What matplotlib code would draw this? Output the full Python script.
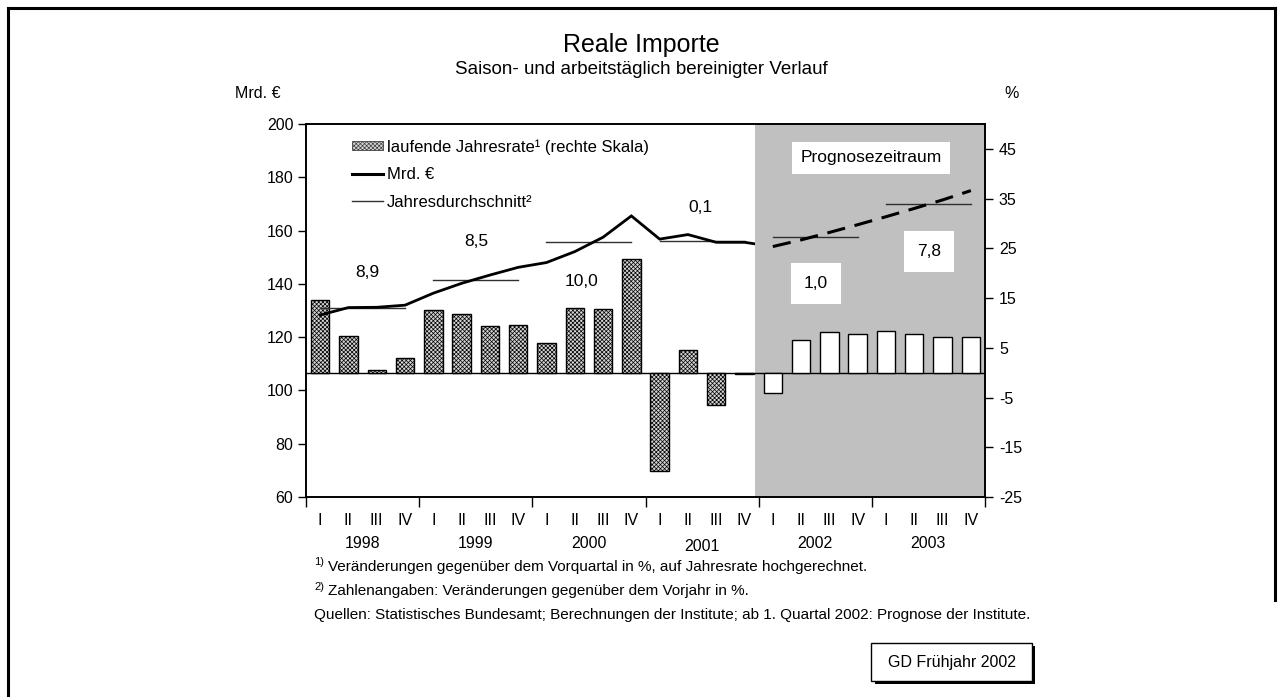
import matplotlib
matplotlib.use('Agg')
import matplotlib.pyplot as plt
import matplotlib.transforms as mtransforms
from matplotlib.patches import Rectangle, Patch
from matplotlib.lines import Line2D

plt.rcParams['font.family'] = ['Liberation Sans', 'DejaVu Sans']
plt.rcParams['hatch.linewidth'] = 0.5
plt.rcParams['hatch.color'] = '#7a7a7a'
plt.rcParams['axes.unicode_minus'] = False

# ---------------- data ----------------
years = ['1998', '1999', '2000', '2001', '2002', '2003']
quarters = ['I', 'II', 'III', 'IV']
# laufende Jahresrate (right scale, %)
rate = [14.6, 7.3, 0.6, 3.0, 12.5, 11.8, 9.4, 9.6, 6.0, 13.0, 12.8, 22.8,
        -19.8, 4.6, -6.6, -0.2, -4.0, 6.5, 8.1, 7.7, 8.4, 7.7, 7.2, 7.2]
# Mrd. EUR, actual (1998 I .. 2002 I) and forecast (2002 I .. 2003 IV)
level_actual = [128.3, 131.1, 131.2, 132.0, 136.5, 140.2, 143.3, 146.2,
                148.0, 152.1, 157.5, 165.5, 156.8, 158.5, 155.6, 155.6, 154.0]
level_forecast = [154.0, 156.5, 159.3, 162.2, 165.2, 168.3, 171.5, 175.0]
annual_avg = [130.8, 141.6, 155.7, 155.9, 157.5, 169.9]
growth_labels = ['8,9', '8,5', '10,0', '0,1', '1,0', '7,8']
n_hist = 16  # first forecast quarter index (2002 I)

# ---------------- layout helpers ----------------
W, H = 1283, 697
def fx(x):
    return x / W
def fy(y):
    return 1 - y / H

fig = plt.figure(figsize=(W / 100, H / 100), dpi=100)
fig.patch.set_facecolor('white')

ax = fig.add_axes([fx(306), fy(497), (985 - 306) / W, (497 - 124) / H])
axb = ax.twinx()
ax.set_zorder(3)
ax.patch.set_visible(False)

n = len(rate)
xs = list(range(n))

# grey forecast region
axb.axvspan(15.37, n - 0.5, color='#c0c0c0', lw=0, zorder=0)

# bars
for i, v in enumerate(rate):
    if i < n_hist:
        axb.bar(i, v, width=0.65, facecolor='#d4d4d4', edgecolor='black',
                hatch='xxxxxxxx', linewidth=1.0, zorder=2)
    else:
        axb.bar(i, v, width=0.65, facecolor='white', edgecolor='black',
                linewidth=1.0, zorder=2)
axb.axhline(0, color='black', lw=1.0, zorder=1.5)

# level line (solid, clipped at forecast start)
ln, = ax.plot(xs[:len(level_actual)], level_actual, color='black', lw=2.0,
              solid_joinstyle='miter', zorder=4)
clip = Rectangle((-1, 0), 16.37, 400, transform=ax.transData)
ln.set_clip_path(clip)
ax.plot(list(range(n_hist, n_hist + len(level_forecast))), level_forecast,
        color='black', lw=2.2, dashes=(6, 3.2), zorder=4)

# annual averages
for k, a in enumerate(annual_avg):
    ax.plot([4 * k, 4 * k + 3], [a, a], color='#303030', lw=1.0, zorder=3.5)

# growth labels
label_pos = [(1.65, 144.2), (5.53, 155.8), (9.25, 140.8), (13.43, 168.7),
             (17.52, 140.0), (21.53, 152.1)]
for k, (lab, (px, py)) in enumerate(zip(growth_labels, label_pos)):
    if k >= 4:
        ax.text(px, py, lab, ha='center', va='center', fontsize=12.5, zorder=6,
                bbox=dict(boxstyle='square,pad=0.75', fc='white', ec='none'))
    else:
        ax.text(px, py, lab, ha='center', va='center', fontsize=12.5, zorder=6)

ax.text(19.47, 187.3, 'Prognosezeitraum', ha='center', va='center',
        fontsize=12.5, zorder=6,
        bbox=dict(boxstyle='square,pad=0.5', fc='white', ec='none'))

# axes scales
ax.set_xlim(-0.5, n - 0.5)
ax.set_ylim(60, 200)
ax.set_yticks(range(60, 201, 20))
axb.set_ylim(-25, 50)
axb.set_yticks(range(-25, 46, 10))
ax.set_xticks([4 * k - 0.5 for k in range(len(years) + 1)])
ax.set_xticklabels([])
ax.tick_params(axis='x', direction='out', length=7, width=1.0)
ax.tick_params(axis='y', direction='out', length=6, width=1.0, labelsize=11.5, pad=3)
axb.tick_params(axis='y', direction='out', length=6, width=1.0, labelsize=11.5, pad=4)
axb.tick_params(axis='x', length=0)
for a in (ax, axb):
    for s in a.spines.values():
        s.set_linewidth(1.2)

# quarter & year labels
trans = mtransforms.blended_transform_factory(ax.transData, ax.transAxes)
for i in xs:
    ax.text(i, -0.064, quarters[i % 4], transform=trans, ha='center', va='center',
            fontsize=11.5)
for k, y in enumerate(years):
    yy = -0.134 if y == '2001' else -0.126
    ax.text(4 * k + 1.5, yy, y, transform=trans, ha='center', va='center',
            fontsize=11.5)

# legend
handles = [Patch(facecolor='#d4d4d4', edgecolor='#404040', hatch='xxxxxxxx', lw=0.6),
           Line2D([], [], color='black', lw=2.2),
           Line2D([], [], color='#303030', lw=1.0)]
labels = ['laufende Jahresrate¹ (rechte Skala)', 'Mrd. €', 'Jahresdurchschnitt²']
leg = ax.legend(handles, labels, loc='upper left', bbox_to_anchor=(0.045, 1.0),
                frameon=False, fontsize=12, handlelength=1.9, handleheight=0.5,
                handletextpad=0.2, labelspacing=0.75, borderaxespad=0.5)
leg.set_zorder(7)

# titles & unit labels
fig.text(fx(641), fy(45), 'Reale Importe', ha='center', va='center', fontsize=18)
fig.text(fx(641), fy(70), 'Saison- und arbeitstäglich bereinigter Verlauf',
         ha='center', va='center', fontsize=13.5)
fig.text(fx(258), fy(93), 'Mrd. €', ha='center', va='center', fontsize=11.5)
fig.text(fx(1012), fy(93), '%', ha='center', va='center', fontsize=11.5)

# footnotes
fig.text(fx(314), fy(562), '1)', ha='left', va='center', fontsize=8)
fig.text(fx(328), fy(567), 'Veränderungen gegenüber dem Vorquartal in %, auf Jahresrate hochgerechnet.',
         ha='left', va='center', fontsize=11)
fig.text(fx(314), fy(587), '2)', ha='left', va='center', fontsize=8)
fig.text(fx(328), fy(591), 'Zahlenangaben: Veränderungen gegenüber dem Vorjahr in %.',
         ha='left', va='center', fontsize=11)
fig.text(fx(314), fy(615), 'Quellen: Statistisches Bundesamt; Berechnungen der Institute; ab 1. Quartal 2002: Prognose der Institute.',
         ha='left', va='center', fontsize=11)

# GD box with shadow
fig.patches.append(Rectangle((fx(875), fy(684)), (1035 - 875) / W, (684 - 646) / H,
                             transform=fig.transFigure, fc='black', ec='none', zorder=1))
fig.patches.append(Rectangle((fx(871), fy(681)), (1032 - 871) / W, (681 - 643) / H,
                             transform=fig.transFigure, fc='white', ec='black', lw=1.0, zorder=2))
fig.text(fx(952), fy(662), 'GD Frühjahr 2002', ha='center', va='center', fontsize=11.5, zorder=3)

# outer frame
fig.add_artist(Line2D([fx(8), fx(8)], [fy(8), fy(697)], color='black', lw=2.2, transform=fig.transFigure))
fig.add_artist(Line2D([fx(8), fx(1275)], [fy(8), fy(8)], color='black', lw=2.2, transform=fig.transFigure))
fig.add_artist(Line2D([fx(1275), fx(1275)], [fy(8), fy(600)], color='black', lw=2.2, transform=fig.transFigure))

fig.savefig('out.png', dpi=100)
